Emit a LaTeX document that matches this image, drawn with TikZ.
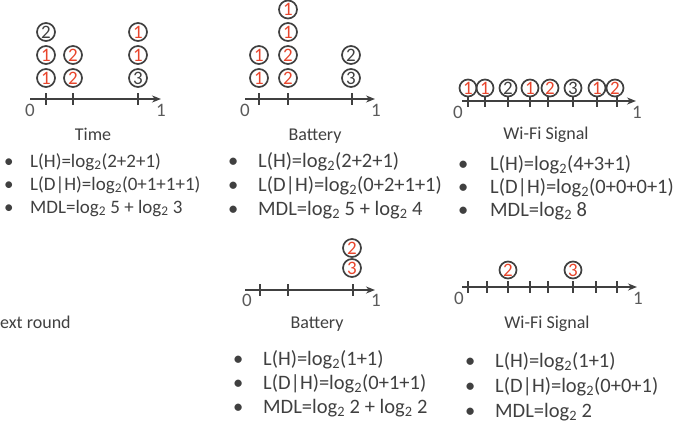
\documentclass[tikz,border=0pt]{standalone}
\usepackage{fontspec}
\setmainfont{Carlito}
\usetikzlibrary{arrows.meta}
\definecolor{inkgrey}{HTML}{404040}
\definecolor{softgrey}{HTML}{5A5A5A}
\definecolor{markred}{HTML}{E8452C}
\tikzset{
  axis/.style={-{Stealth[length=9pt, width=7pt]}, line width=2.2pt, color=inkgrey},
  notch/.style={line width=1.6pt, color=inkgrey},
  pt/.style={circle, draw=inkgrey, line width=1.7pt, minimum size=18pt, inner sep=0pt,
    font=\fontsize{19}{19}\selectfont},
  hit/.style={pt, text=markred},
  miss/.style={pt, text=inkgrey},
  endlab/.style={font=\fontsize{19}{19}\selectfont, text=softgrey, inner sep=0pt},
  title/.style={anchor=base, font=\fontsize{18}{18}\selectfont, text=inkgrey, inner sep=0pt},
  item/.style={anchor=base west, inner sep=0pt, text=inkgrey, font=\fontsize{20.5}{24}\selectfont}
}
\newcommand{\bul}[1]{\makebox[#1][l]{\textbullet}}

\begin{document}
\begin{tikzpicture}[x=1pt, y=-1pt]
\useasboundingbox (0,0) rectangle (674,423);

% top row: Time
\coordinate (T0) at (30,99);
\coordinate (T1) at (161,99);
\draw[axis] (T0) -- (T1);
\foreach \x in {46,73,138} \draw[notch] (\x,93) -- (\x,105);
\node[endlab] (t0) at (30,110) {0};
\node[endlab] (t1) at (161,110) {1};
\node[hit]  (ta1) at (46,78) {1};
\node[hit]  (ta2) at (46,55) {1};
\node[miss] (ta3) at (46,32) {2};
\node[hit]  (tb1) at (73,78) {2};
\node[hit]  (tb2) at (73,55) {2};
\node[miss] (tc1) at (138,78) {3};
\node[hit]  (tc2) at (138,55) {1};
\node[hit]  (tc3) at (138,32) {1};
\node[title] (time) at (93,140) {Time};
\node[item, font=\fontsize{19}{22}\selectfont] (tl1) at (4,167) {\bul{26pt}L(H)=log\textsubscript{2}(2+2+1)};
\node[item, font=\fontsize{19}{22}\selectfont] (tl2) at (4,190) {\bul{26pt}L(D|H)=log\textsubscript{2}(0+1+1+1)};
\node[item, font=\fontsize{19}{22}\selectfont] (tl3) at (4,213) {\bul{26pt}MDL=log\textsubscript{2} 5 + log\textsubscript{2} 3};

% top row: Battery
\coordinate (B0) at (245,99);
\coordinate (B1) at (375,99);
\draw[axis] (B0) -- (B1);
\foreach \x in {259,288,352} \draw[notch] (\x,93) -- (\x,105);
\node[endlab] (b0) at (245,110) {0};
\node[endlab] (b1) at (376,110) {1};
\node[hit]  (ba1) at (259,78) {1};
\node[hit]  (ba2) at (259,55) {1};
\node[hit]  (bb1) at (288,78) {2};
\node[hit]  (bb2) at (288,55) {2};
\node[hit]  (bb3) at (288,32) {1};
\node[hit]  (bb4) at (288,9.5) {1};
\node[miss] (bc1) at (351,78) {3};
\node[miss] (bc2) at (351,55) {2};
\node[title] (battery) at (315,140) {Battery};
\node[item] (bl1) at (228,167) {\bul{30pt}L(H)=log\textsubscript{2}(2+2+1)};
\node[item] (bl2) at (228,191) {\bul{30pt}L(D|H)=log\textsubscript{2}(0+2+1+1)};
\node[item] (bl3) at (228,215) {\bul{30pt}MDL=log\textsubscript{2} 5 + log\textsubscript{2} 4};

% top row: Wi-Fi
\coordinate (W0) at (462,101);
\coordinate (W1) at (636,101);
\draw[axis] (W0) -- (W1);
\foreach \x in {468,485,508,530,548,573,597,617} \draw[notch] (\x,96) -- (\x,107);
\node[endlab] (w0) at (458,112) {0};
\node[endlab] (w1) at (637,112) {1};
\foreach \x/\d/\s [count=\i] in {468/1/hit,485/1/hit,508/2/miss,530/1/hit,550/2/hit,573/3/miss,597/1/hit,615/2/hit}
  \node[\s, minimum size=17pt] (wa\i) at (\x,88) {\d};
\node[title] (wifi) at (546,139) {Wi-Fi Signal};
\node[item] (wl1) at (458,170) {\bul{32pt}L(H)=log\textsubscript{2}(4+3+1)};
\node[item] (wl2) at (458,193) {\bul{32pt}L(D|H)=log\textsubscript{2}(0+0+0+1)};
\node[item] (wl3) at (458,216) {\bul{32pt}MDL=log\textsubscript{2} 8};

% next round
\node[title, anchor=base west] (next) at (0,328) {ext round};

% bottom row: Battery
\coordinate (C0) at (245,290);
\coordinate (C1) at (375,290);
\draw[axis] (C0) -- (C1);
\foreach \x in {260,288,353} \draw[notch] (\x,284) -- (\x,296);
\node[endlab] (c0) at (247,300) {0};
\node[endlab] (c1) at (376,300) {1};
\node[hit] (ca1) at (352,268) {3};
\node[hit] (ca2) at (352,248) {2};
\node[title] (battery2) at (317,328) {Battery};
\node[item] (cl1) at (233,365) {\bul{30pt}L(H)=log\textsubscript{2}(1+1)};
\node[item] (cl2) at (233,389) {\bul{30pt}L(D|H)=log\textsubscript{2}(0+1+1)};
\node[item] (cl3) at (233,413) {\bul{30pt}MDL=log\textsubscript{2} 2 + log\textsubscript{2} 2};

% bottom row: Wi-Fi
\coordinate (V0) at (462,287);
\coordinate (V1) at (637,287);
\draw[axis] (V0) -- (V1);
\foreach \x in {468,487,508,530,548,573,596,617} \draw[notch] (\x,281) -- (\x,293);
\node[endlab] (v0) at (459,298) {0};
\node[endlab] (v1) at (638,298) {1};
\node[hit, minimum size=17pt] (va1) at (508,270) {2};
\node[hit, minimum size=17pt] (va2) at (573,270) {3};
\node[title] (wifi2) at (547,328) {Wi-Fi Signal};
\node[item] (vl1) at (465,367) {\bul{30pt}L(H)=log\textsubscript{2}(1+1)};
\node[item] (vl2) at (465,392) {\bul{30pt}L(D|H)=log\textsubscript{2}(0+0+1)};
\node[item] (vl3) at (465,417) {\bul{30pt}MDL=log\textsubscript{2} 2};
\end{tikzpicture}
\end{document}
